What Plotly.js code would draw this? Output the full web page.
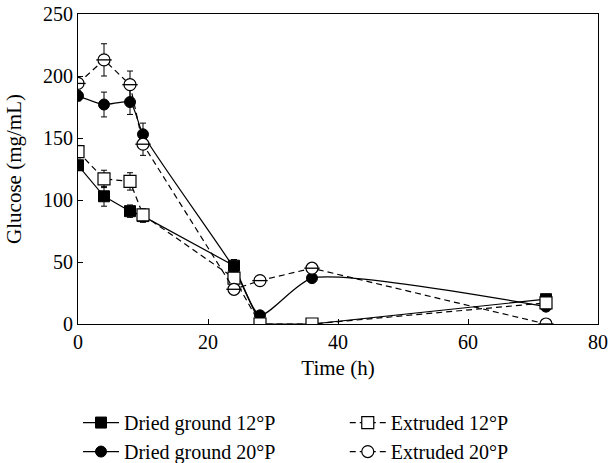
<!DOCTYPE html>
<html>
<head>
<meta charset="utf-8">
<script src="https://cdn.plot.ly/plotly-3.0.1.min.js"></script>
<style>html,body{margin:0;padding:0;background:#fff;}#chart{width:612px;height:463px;}</style>
</head>
<body>
<div id="chart"></div>
<script>
const time = [0, 4, 8, 10, 24, 28, 36, 72];

const driedGround12 = [128, 103, 91, 87, 47, 0, 0, 20];
const driedGround12Err = [4, 8, 5, 5, 5, 0, 0, 3];

const extruded12 = [139, 117, 115, 88, 37, 0, 0, 17];
const extruded12Err = [5, 7, 7, 5, 5, 0, 0, 3];

const driedGround20 = [184, 177, 179, 153, 45, 7, 37, 14];
const driedGround20Err = [4, 10, 10, 9, 3, 2, 2, 2];

const extruded20 = [194, 213, 193, 145, 28, 35, 45, 0];
const extruded20Err = [4, 13, 11, 9, 3, 2, 3, 0];

const timeErr = [0.8, 0.8, 0.8, 0.8, 0.8, 0, 0, 0.8];

const names = ["Dried ground 12°P", "Extruded 12°P", "Dried ground 20°P", "Extruded 20°P"];

function errY(a){ return {type:'data', array:a, visible:true, color:'#000', thickness:1, width:3}; }
function errX(a){ return {type:'data', array:a, visible:true, color:'#000', thickness:1, width:3}; }

const traces = [
  {x: time, y: driedGround12, name: names[0], mode: 'lines+markers', legend:'legend',
   line: {color:'#000', width:1.2, dash:'solid'},
   marker: {symbol:'square', size:11, color:'#000', line:{color:'#000', width:1}},
   error_y: errY(driedGround12Err), error_x: errX(timeErr)},
  {x: time, y: driedGround20, name: names[2], mode: 'lines+markers', legend:'legend',
   line: {color:'#000', width:1.2, dash:'solid', shape:'spline', smoothing:0.6},
   marker: {symbol:'circle', size:11, color:'#000', line:{color:'#000', width:1}},
   error_y: errY(driedGround20Err)},
  {x: time, y: extruded12, name: names[1], mode: 'lines+markers', legend:'legend2',
   line: {color:'#000', width:1.2, dash:'6px,4px'},
   marker: {symbol:'square', size:12, color:'#fff', line:{color:'#000', width:1.2}},
   error_y: errY(extruded12Err), error_x: errX(timeErr)},
  {x: time, y: extruded20, name: names[3], mode: 'lines+markers', legend:'legend2', legendgroup:'ex20',
   line: {color:'#000', width:1.2, dash:'6px,4px'},
   marker: {symbol:'circle', size:12, color:'#fff', line:{color:'#000', width:1.2}},
   error_y: errY(extruded20Err)},
  {x: time, y: extruded20, name: names[3], mode: 'markers', legend:'legend2', legendgroup:'ex20', showlegend:false,
   marker: {symbol:'line-ew-open', size:11, color:'#000', line:{color:'#000', width:1.3}},
   hoverinfo:'skip'}
];

const legendBase = {orientation:'v', yanchor:'top', y:-0.255, xanchor:'left', itemwidth:36,
  font:{size:20}, bgcolor:'rgba(0,0,0,0)', tracegroupgap:0, traceorder:'normal'};

const layout = {
  width: 612, height: 463,
  margin: {l:78, r:14, t:14, b:139, autoexpand:false},
  paper_bgcolor:'#fff', plot_bgcolor:'#fff',
  font: {family:'"Liberation Serif", "Times New Roman", serif', size:20, color:'#000'},
  showlegend: true,
  xaxis: {range:[0,80], tickvals:[0,20,40,60,80], ticks:'inside', ticklen:5, tickcolor:'#000',
    showline:true, linecolor:'#000', linewidth:1, mirror:true, showgrid:false, zeroline:false,
    title:{text:'Time (h)', standoff:8, font:{size:21}}, tickfont:{size:20}},
  yaxis: {range:[0,250], tickvals:[0,50,100,150,200,250], ticks:'inside', ticklen:5, tickcolor:'#000',
    showline:true, linecolor:'#000', linewidth:1, mirror:true, showgrid:false, zeroline:false,
    title:{text:'Glucose (mg/mL)', standoff:15, font:{size:21}}, tickfont:{size:20}},
  legend: Object.assign({}, legendBase, {x:0.0}),
  legend2: Object.assign({}, legendBase, {x:0.513})
};

Plotly.newPlot('chart', traces, layout, {displayModeBar:false, staticPlot:true});
</script>
</body>
</html>
